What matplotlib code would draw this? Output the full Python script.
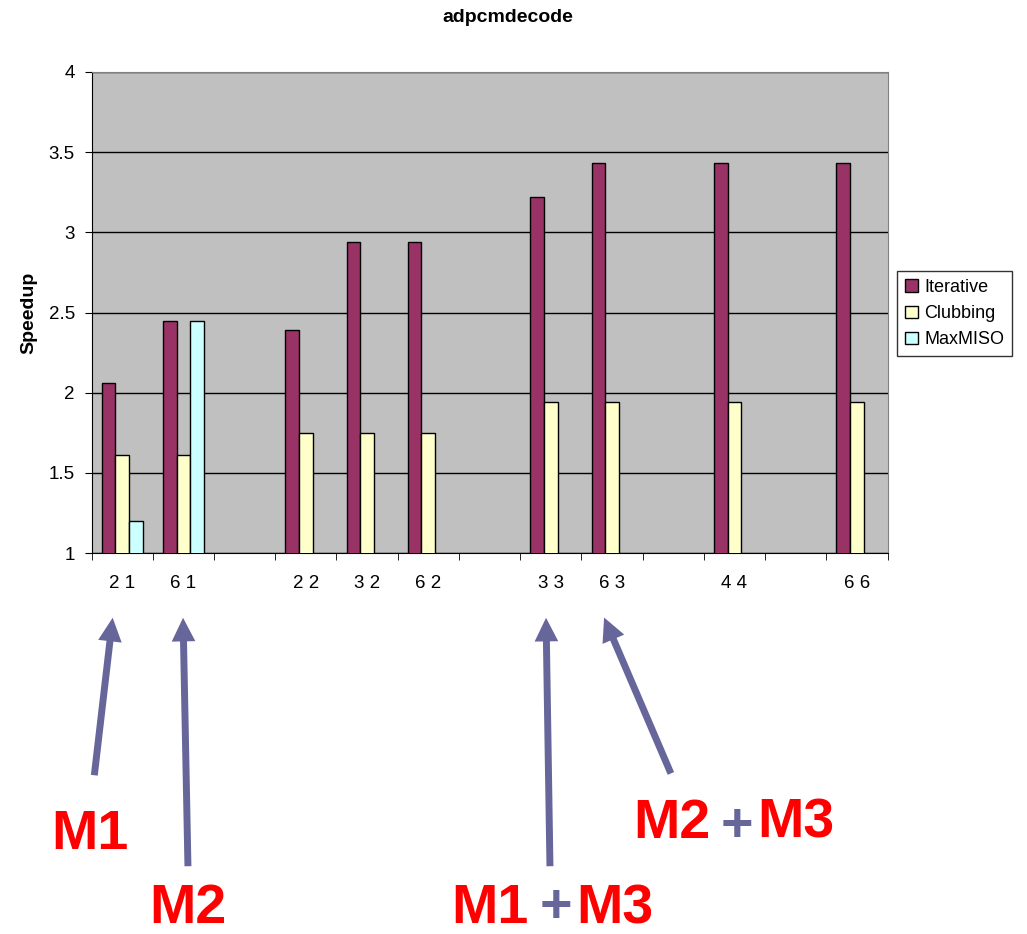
import numpy as np
import matplotlib.pyplot as plt
from matplotlib.patches import FancyArrowPatch

plt.rcParams['font.family'] = ['Liberation Sans', 'DejaVu Sans']

# data (blank categories are spacer slots)
categories = ["2 1", "6 1", "", "2 2", "3 2", "6 2", "", "3 3", "6 3", "", "4 4", "", "6 6"]
iterative = [2.06, 2.45, np.nan, 2.39, 2.94, 2.94, np.nan, 3.22, 3.43, np.nan, 3.43, np.nan, 3.43]
clubbing = [1.61, 1.61, np.nan, 1.75, 1.75, 1.75, np.nan, 1.94, 1.94, np.nan, 1.94, np.nan, 1.94]
maxmiso = [1.20, 2.45, np.nan, np.nan, np.nan, np.nan, np.nan, np.nan, np.nan, np.nan, np.nan, np.nan, np.nan]
series_names = ["Iterative", "Clubbing", "MaxMISO"]
series_colors = ["#993366", "#FFFFCC", "#CCFFFF"]

W, H = 1027, 934
fig = plt.figure(figsize=(W / 100, H / 100), dpi=100)


def px(x, y):
    # figure pixel -> figure fraction
    return x / W, 1 - y / H


ax = fig.add_axes([91.5 / W, 1 - 553 / H, 796 / W, 481 / H])
ax.set_facecolor("#C0C0C0")

x = np.arange(len(categories))
bw = 0.222
for i, (vals, name, col) in enumerate(zip([iterative, clubbing, maxmiso], series_names, series_colors)):
    ax.bar(x + (i - 1) * bw, vals, bw, color=col, edgecolor="black", linewidth=1,
           label=name, zorder=3)

ax.set_xlim(-0.5, len(categories) - 0.5)
ax.set_ylim(1, 4)
ax.set_yticks([1, 1.5, 2, 2.5, 3, 3.5, 4])
ax.set_yticklabels(["1", "1.5", "2", "2.5", "3", "3.5", "4"])
ax.yaxis.grid(True, color="black", linewidth=1, zorder=0)
ax.set_axisbelow(True)

ax.set_xticks(x)
ax.set_xticklabels(categories)
ax.set_xticks(np.arange(len(categories) + 1) - 0.5, minor=True)
ax.tick_params(axis="x", which="major", length=0, pad=16, labelsize=13.5)
ax.tick_params(axis="x", which="minor", length=5, direction="out", color="black")
ax.tick_params(axis="y", length=5, direction="out", pad=7, labelsize=13.5)

for s in ["top", "right"]:
    ax.spines[s].set_color("#808080")
for s in ["left", "bottom"]:
    ax.spines[s].set_color("black")

ax.set_ylabel("Speedup", fontsize=14, fontweight="bold", labelpad=8)
fig.text(*px(508, 17), "adpcmdecode", ha="center", va="center", fontsize=14, fontweight="bold")

leg = ax.legend(loc="upper left", bbox_to_anchor=px(897, 271), bbox_transform=fig.transFigure,
                borderaxespad=0, fontsize=13, frameon=True, fancybox=False, edgecolor="black",
                handlelength=0.7, handleheight=0.7, handletextpad=0.35, labelspacing=0.5,
                borderpad=0.45)
leg.get_frame().set_linewidth(1)

# annotation arrows (figure pixels)
arrow_color = "#66669A"
arrows = [((94, 778), (113, 615)), ((188, 869), (183, 615)),
          ((550, 869), (546, 615)), ((672, 776), (603, 615))]
for tail, tip in arrows:
    fig.patches.append(FancyArrowPatch(px(*tail), px(*tip), transform=fig.transFigure,
                                       arrowstyle="simple,head_width=17,head_length=17,tail_width=5",
                                       mutation_scale=1, color=arrow_color, linewidth=0))

red = "#FF0000"
big = dict(fontsize=40, fontweight="bold", va="baseline", ha="left", color=red)
fig.text(*px(51, 849), "M1", **big)
fig.text(*px(149, 923), "M2", **big)
fig.text(*px(451, 923), "M1", **big)
fig.text(*px(576, 923), "M3", **big)
fig.text(*px(633, 838), "M2", **big)
fig.text(*px(757, 838), "M3", **big)
plus = dict(fontsize=40, fontweight="bold", va="baseline", ha="center", color=arrow_color)
fig.text(*px(556, 922), "+", **plus)
fig.text(*px(737, 841), "+", **plus)

fig.savefig("out.png", dpi=100)
